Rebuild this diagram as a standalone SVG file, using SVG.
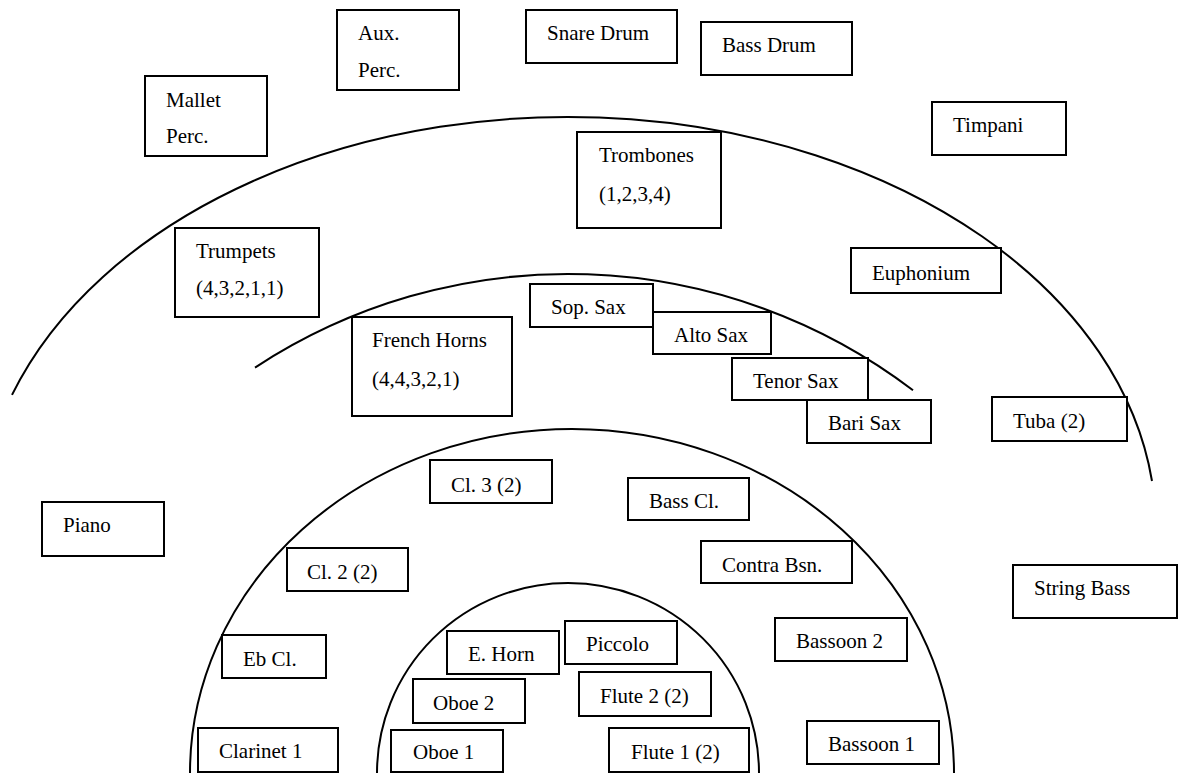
<svg xmlns="http://www.w3.org/2000/svg" width="1178" height="773" viewBox="0 0 1178 773">
<style>
.b{fill:#fff;stroke:#000;stroke-width:2}
.t{font-family:"Liberation Serif","Times New Roman",serif;font-size:21px;fill:#000}
.a{fill:none;stroke:#000;stroke-width:2}
</style>
<rect x="0" y="0" width="1178" height="773" fill="#fff"/>
<g id="sections">
<path class="a" d="M 12 394.9 A 588 412 0 0 1 1152 481"/>
<path class="a" d="M 255 367.6 A 570 570 0 0 1 913 390.3"/>
<path class="a" d="M 190 773 A 382 344 0 0 1 954 773"/>
<path class="a" d="M 377 773 A 191 190 0 0 1 759 773"/>
</g>
<g id="mallet"><rect class="b" x="145" y="76" width="122" height="80"/><text class="t" x="166" y="107">Mallet</text><text class="t" x="166" y="143">Perc.</text></g>
<g id="aux"><rect class="b" x="337" y="10" width="122" height="80"/><text class="t" x="358" y="40">Aux.</text><text class="t" x="358" y="77">Perc.</text></g>
<g id="snare"><rect class="b" x="526" y="10" width="151" height="53"/><text class="t" x="547" y="40">Snare Drum</text></g>
<g id="bassdrum"><rect class="b" x="701" y="22" width="151" height="53"/><text class="t" x="722" y="52">Bass Drum</text></g>
<g id="timpani"><rect class="b" x="932" y="102" width="134" height="53"/><text class="t" x="953" y="132">Timpani</text></g>
<g id="trombones"><rect class="b" x="577" y="132" width="144" height="96"/><text class="t" x="599" y="162">Trombones</text><text class="t" x="599" y="201">(1,2,3,4)</text></g>
<g id="trumpets"><rect class="b" x="175" y="228" width="144" height="89"/><text class="t" x="196" y="258">Trumpets</text><text class="t" x="196" y="295">(4,3,2,1,1)</text></g>
<g id="euphonium"><rect class="b" x="851" y="248" width="150" height="45"/><text class="t" x="872" y="280">Euphonium</text></g>
<g id="frenchhorns"><rect class="b" x="352" y="317" width="160" height="99"/><text class="t" x="372" y="347">French Horns</text><text class="t" x="372" y="386">(4,4,3,2,1)</text></g>
<g id="sopsax"><rect class="b" x="530" y="284" width="123" height="43"/><text class="t" x="551" y="314">Sop. Sax</text></g>
<g id="altosax"><rect class="b" x="653" y="312" width="118" height="42"/><text class="t" x="674" y="342">Alto Sax</text></g>
<g id="tenorsax"><rect class="b" x="732" y="358" width="136" height="42"/><text class="t" x="753" y="388">Tenor Sax</text></g>
<g id="barisax"><rect class="b" x="807" y="400" width="124" height="43"/><text class="t" x="828" y="430">Bari Sax</text></g>
<g id="tuba"><rect class="b" x="992" y="397" width="135" height="44"/><text class="t" x="1013" y="428">Tuba (2)</text></g>
<g id="piano"><rect class="b" x="42" y="502" width="122" height="54"/><text class="t" x="63" y="532">Piano</text></g>
<g id="cl3"><rect class="b" x="430" y="460" width="122" height="43"/><text class="t" x="451" y="492">Cl. 3 (2)</text></g>
<g id="basscl"><rect class="b" x="628" y="478" width="121" height="42"/><text class="t" x="649" y="508">Bass Cl.</text></g>
<g id="cl2"><rect class="b" x="287" y="548" width="121" height="43"/><text class="t" x="307" y="579">Cl. 2 (2)</text></g>
<g id="contrabsn"><rect class="b" x="701" y="541" width="151" height="42"/><text class="t" x="722" y="572">Contra Bsn.</text></g>
<g id="stringbass"><rect class="b" x="1013" y="565" width="164" height="53"/><text class="t" x="1034" y="595">String Bass</text></g>
<g id="ebcl"><rect class="b" x="222" y="635" width="104" height="43"/><text class="t" x="243" y="666">Eb Cl.</text></g>
<g id="ehorn"><rect class="b" x="447" y="631" width="112" height="43"/><text class="t" x="468" y="661">E. Horn</text></g>
<g id="piccolo"><rect class="b" x="565" y="621" width="112" height="43"/><text class="t" x="586" y="651">Piccolo</text></g>
<g id="bassoon2"><rect class="b" x="775" y="618" width="132" height="43"/><text class="t" x="796" y="648">Bassoon 2</text></g>
<g id="oboe2"><rect class="b" x="413" y="679" width="112" height="44"/><text class="t" x="433" y="710">Oboe 2</text></g>
<g id="flute2"><rect class="b" x="579" y="672" width="132" height="44"/><text class="t" x="600" y="703">Flute 2 (2)</text></g>
<g id="clarinet1"><rect class="b" x="198" y="728" width="140" height="44"/><text class="t" x="219" y="758">Clarinet 1</text></g>
<g id="oboe1"><rect class="b" x="391" y="730" width="112" height="42"/><text class="t" x="413" y="759">Oboe 1</text></g>
<g id="flute1"><rect class="b" x="609" y="728" width="140" height="44"/><text class="t" x="631" y="759">Flute 1 (2)</text></g>
<g id="bassoon1"><rect class="b" x="807" y="721" width="132" height="43"/><text class="t" x="828" y="751">Bassoon 1</text></g>
</svg>
